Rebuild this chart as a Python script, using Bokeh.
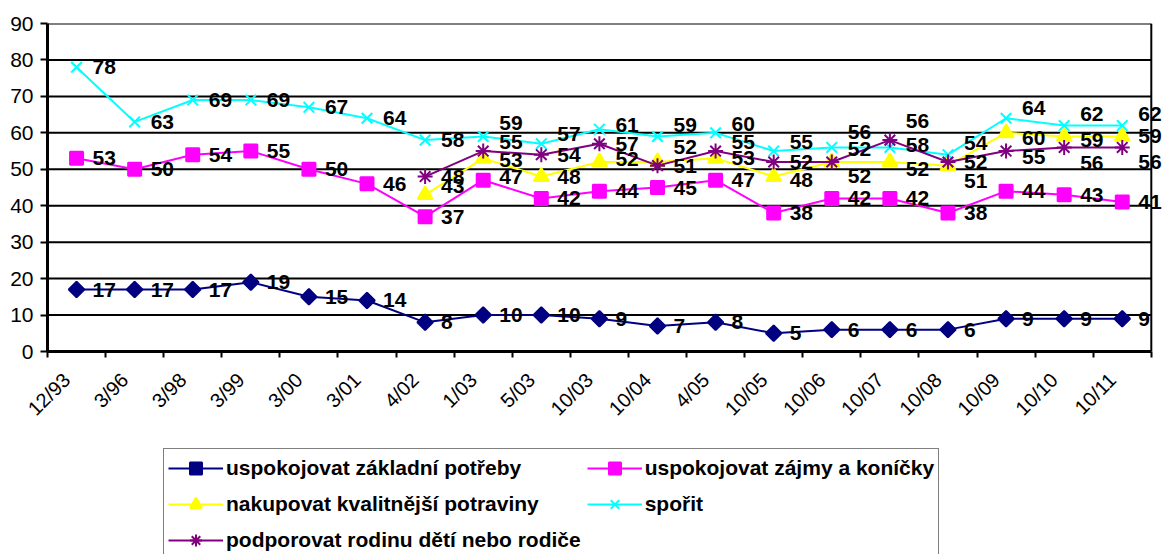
import math
from bokeh.plotting import figure
from bokeh.layouts import column
from bokeh.models import (ColumnDataSource, Range1d, FixedTicker, Legend, LegendItem, Label, Span)
from bokeh.embed import file_html
from bokeh.resources import INLINE

# ---------------- data ----------------
categories = ["12/93", "3/96", "3/98", "3/99", "3/00", "3/01", "4/02", "1/03", "5/03",
              "10/03", "10/04", "4/05", "10/05", "10/06", "10/07", "10/08", "10/09",
              "10/10", "10/11"]

zakladni = [17, 17, 17, 19, 15, 14, 8, 10, 10, 9, 7, 8, 5, 6, 6, 6, 9, 9, 9]
zajmy = [53, 50, 54, 55, 50, 46, 37, 47, 42, 44, 45, 47, 38, 42, 42, 38, 44, 43, 41]
potraviny = [None, None, None, None, None, None, 43, 53, 48, 52, 52, 53, 48, 52, 52, 51, 60, 59, 59]
sporit = [78, 63, 69, 69, 67, 64, 58, 59, 57, 61, 59, 60, 55, 56, 56, 54, 64, 62, 62]
rodina = [None, None, None, None, None, None, 48, 55, 54, 57, 51, 55, 52, 52, 58, 52, 55, 56, 56]

y_ticks = [0, 10, 20, 30, 40, 50, 60, 70, 80, 90]

series_names = ["uspokojovat základní potřeby", "uspokojovat zájmy a koníčky",
                "nakupovat kvalitnější potraviny", "spořit",
                "podporovat rodinu dětí nebo rodiče"]

# ---------------- styles ----------------
colors = ["#000080", "#FF00FF", "#FFFF00", "#00FFFF", "#800080"]
markers = ["square", "square", "triangle", "x", "asterisk"]
marker_sizes = [11, 13, 15, 15, 15]
marker_angles = [math.pi / 4, 0, 0, 0, 0]

# label vertical nudges (screen px, positive = up) per series
label_nudge = [
    [0] * 19,
    [0, 0, 0, 0, 0, 0, 0, 3, 0, 0, 0, 0, 0, 0, 0, 0, 0, 0, 0],
    [0, 0, 0, 0, 0, 0, 9, -2, 0, 3, 15, 0, -3, -14, -7, -15, -5, -4, 0],
    [0, 0, 0, 0, 0, 0, 0, 13, 10, 4, 11, 9, 9, 15, 26, 12, 10, 12, 12],
    [0, 0, 0, 0, 0, 0, 0, 9, 0, 0, 0, 9, 0, 13, -5, 0, -6, -16, -15],
]

FONT = "Liberation Sans"
n = len(categories)
centers = [i + 0.5 for i in range(n)]          # category slots on the x scale
label_shift = 0.33                              # rotated tick labels end slightly left of centre
right_pad = 0.21                                # room right of the plot area (labels spill into it)

p = figure(width=1163, height=445, x_range=Range1d(0, n + right_pad), y_range=Range1d(0, 90),
           output_backend="svg", toolbar_location=None,
           min_border_left=47, min_border_right=0, min_border_top=23,
           min_border_bottom=94)
p.background_fill_color = "white"
p.border_fill_color = "white"
p.outline_line_color = None

# horizontal gridlines limited to the plot area, plus right border
p.ygrid.grid_line_color = None
p.xgrid.grid_line_color = None
grid_src = ColumnDataSource(dict(y=y_ticks, x0=[0] * len(y_ticks), x1=[n] * len(y_ticks)))
p.segment(x0="x0", x1="x1", y0="y", y1="y", source=grid_src, line_color="black", line_width=2)
p.add_layout(Span(location=n, dimension="height", line_color="black", line_width=2))

# y axis
p.yaxis.ticker = FixedTicker(ticks=y_ticks)
p.yaxis.axis_line_width = 3
p.yaxis.axis_line_color = "black"
p.yaxis.major_tick_out = 7
p.yaxis.major_tick_in = 0
p.yaxis.major_tick_line_width = 2
p.yaxis.major_tick_line_color = "black"
p.yaxis.minor_tick_line_color = None
p.yaxis.major_label_text_font = FONT
p.yaxis.major_label_text_font_size = "21px"
p.yaxis.major_label_text_color = "black"
p.yaxis.major_label_standoff = 7

# x axis: labels near category centres, tick marks at category boundaries
label_ticks = [i + label_shift for i in range(n)]
xaxis = p.xaxis[0]
xaxis.bounds = (0, n)
xaxis.ticker = FixedTicker(ticks=label_ticks, minor_ticks=list(range(n + 1)))
xaxis.major_label_overrides = {t: c for t, c in zip(label_ticks, categories)}
xaxis.axis_line_width = 3
xaxis.axis_line_color = "black"
xaxis.major_tick_line_color = None
xaxis.major_tick_out = 0
xaxis.major_tick_in = 0
xaxis.minor_tick_out = 6
xaxis.minor_tick_in = 0
xaxis.minor_tick_line_width = 2
xaxis.minor_tick_line_color = "black"
xaxis.major_label_orientation = math.pi / 4
xaxis.major_label_text_font = FONT
xaxis.major_label_text_font_size = "20px"
xaxis.major_label_text_color = "black"
xaxis.major_label_standoff = 19

# legend strip under the chart
pl = figure(width=1163, height=109, x_range=Range1d(0, 1), y_range=Range1d(-2, -1),
            x_axis_location=None, y_axis_location=None,
            output_backend="svg", toolbar_location=None,
            min_border=0)
pl.outline_line_color = None
pl.grid.visible = False
pl.background_fill_color = "white"
pl.border_fill_color = "white"

all_series = [zakladni, zajmy, potraviny, sporit, rodina]
items = []
for k, vals in enumerate(all_series):
    xs, ys, off = [], [], []
    for xc, v, o in zip(centers, vals, label_nudge[k]):
        if v is None:
            continue
        xs.append(xc)
        ys.append(v)
        off.append(o)
    src = ColumnDataSource(dict(x=xs, y=ys))
    p.line("x", "y", source=src, line_color=colors[k], line_width=2)
    p.scatter("x", "y", source=src, marker=markers[k], size=marker_sizes[k],
              angle=marker_angles[k], fill_color=colors[k], line_color=colors[k],
              line_width=2)
    for xv, yv, o in zip(xs, ys, off):
        p.add_layout(Label(x=xv, y=yv, text=str(yv), x_offset=16, y_offset=o,
                           text_font=FONT, text_font_style="bold",
                           text_font_size="21px", text_color="black",
                           text_align="left", text_baseline="middle"))
    # same series in the legend strip (outside its visible range; only the legend shows)
    lln = pl.line("x", "y", source=src, line_color=colors[k], line_width=2)
    lsc = pl.scatter("x", "y", source=src, marker=markers[k], size=marker_sizes[k],
                     angle=marker_angles[k], fill_color=colors[k], line_color=colors[k],
                     line_width=2)
    items.append(LegendItem(label=series_names[k], renderers=[lln, lsc]))

legend = Legend(items=items, orientation="horizontal", ncols=2,
                location=(116, -6),
                label_text_font=FONT, label_text_font_style="bold",
                label_text_font_size="21px", label_text_color="black",
                glyph_width=55, glyph_height=30, label_height=30,
                label_standoff=3, spacing=6, padding=4, margin=0,
                border_line_color="black", border_line_width=1.5,
                background_fill_color="white", background_fill_alpha=1.0)
pl.add_layout(legend)

layout = column(p, pl, spacing=0)
open("out.html", "w").write(file_html(layout, INLINE))
